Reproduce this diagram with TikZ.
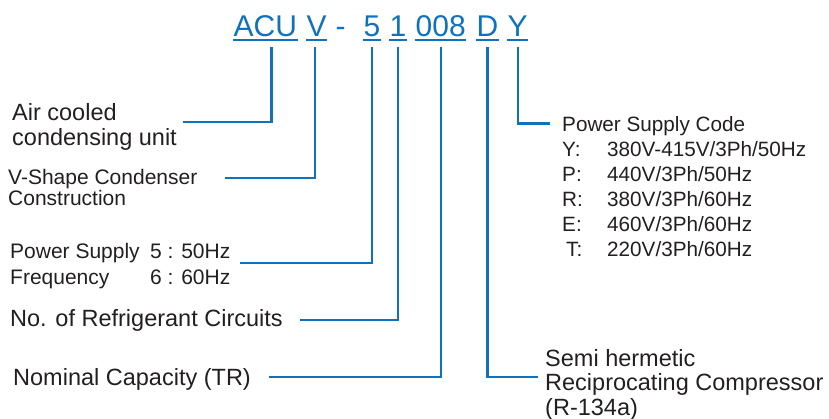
\documentclass[tikz,border=0pt]{standalone}
\usepackage{fontspec}
\setmainfont{Liberation Sans}
\definecolor{azulCodigo}{RGB}{16,114,189}
\definecolor{textoEscuro}{RGB}{35,31,32}
\tikzset{
  codigo/.style={anchor=base west, inner xsep=0.5pt, inner ysep=0pt, text depth=11pt,
                 text=azulCodigo, font=\fontsize{30}{36}\selectfont},
  sublinha/.style={line width=1.8pt, azulCodigo},
  rotulo/.style={anchor=base west, inner sep=0pt, text=textoEscuro,
                 font=\fontsize{23.5}{25}\selectfont},
  rotulop/.style={rotulo, font=\fontsize{21}{22}\selectfont},
  ligacao/.style={line width=2.4pt, azulCodigo},
}

\begin{document}
\begin{tikzpicture}[x=1pt,y=-1pt]
  \useasboundingbox (0,0) rectangle (829,418);
  % model code
  \node[codigo] (acu) at (233,36) {ACU};
  \node[codigo] (v) at (306,36) {V};
  \node[codigo] (traco) at (335,36) {-};
  \node[codigo] (cinco) at (363,36) {5};
  \node[codigo] (um) at (389,36) {1};
  \node[codigo] (cap) at (415,36) {008};
  \node[codigo] (d) at (476,36) {D};
  \node[codigo] (y) at (507,36) {Y};
  \foreach \n in {acu,v,cinco,um,cap,d,y}
    \draw[sublinha] ([yshift=7pt]\n.south west) -- ([yshift=7pt]\n.south east);
  % descriptions
  \node[rotulo] (air) at (12,120)
    {\begin{tabular}[t]{@{}l@{}}Air cooled\\condensing unit\end{tabular}};
  \node[rotulop, font=\fontsize{21}{21.5}\selectfont] (vshape) at (8,184.3)
    {\begin{tabular}[t]{@{}l@{}}V-Shape Condenser\\Construction\end{tabular}};
  \node[rotulop, font=\fontsize{21}{26}\selectfont] (psf) at (10,258)
    {\begin{tabular}[t]{@{}p{140pt}@{}l@{}}Power Supply & 5 : 50Hz\\Frequency & 6 : 60Hz\end{tabular}};
  \node[rotulo] (circ) at (10,326.7) {No. of Refrigerant Circuits};
  \node[rotulo] (nom) at (13,385.7) {Nominal Capacity (TR)};
  \node[rotulop, font=\fontsize{20.7}{25}\selectfont] (psc) at (562,131.7)
    {\begin{tabular}[t]{@{}p{45pt}@{}l@{}}\multicolumn{2}{@{}l@{}}{Power Supply Code}\\
     Y: & 380V-415V/3Ph/50Hz\\ P: & 440V/3Ph/50Hz\\ R: & 380V/3Ph/60Hz\\
     E: & 460V/3Ph/60Hz\\ \hspace*{4pt}T: & 220V/3Ph/60Hz\end{tabular}};
  \node[rotulo, font=\fontsize{23.5}{23.8}\selectfont] (semi) at (545,366.7)
    {\begin{tabular}[t]{@{}l@{}}Semi hermetic\\Reciprocating Compressor\\(R-134a)\end{tabular}};
  % connectors
  \draw[ligacao] ([xshift=6pt]acu.south) |- ([xshift=5.5pt,yshift=-2pt]air.base east);
  \draw[ligacao] ([xshift=-2pt]v.south) |- ([xshift=27pt,yshift=6.3pt]vshape.base east);
  \draw[ligacao] (cinco.south) |- ([xshift=9pt,yshift=-5pt]psf.base east);
  \draw[ligacao] (um.south) |- ([xshift=16.7pt,yshift=6.7pt]circ.base east);
  \draw[ligacao] (cap.south) |- ([xshift=18.4pt,yshift=9pt]nom.base east);
  \draw[ligacao] (d.south) |- ([xshift=-7pt,yshift=-10pt]semi.base west);
  \draw[ligacao] (y.south) |- ([xshift=-12pt,yshift=8.4pt]psc.base west);
\end{tikzpicture}
\end{document}
